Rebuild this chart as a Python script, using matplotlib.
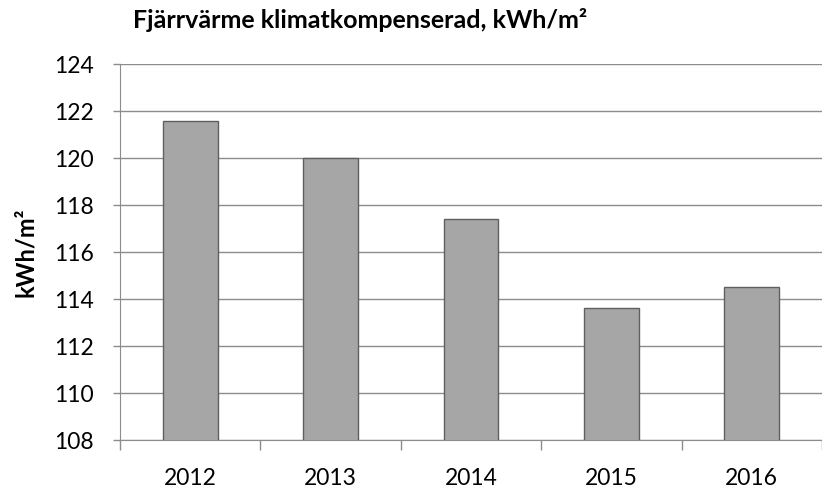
import matplotlib
matplotlib.use("Agg")
import matplotlib.pyplot as plt
import numpy as np

years = ["2012", "2013", "2014", "2015", "2016"]
values = [121.6, 120.0, 117.4, 113.6, 114.5]
yticks = [108, 110, 112, 114, 116, 118, 120, 122, 124]

plt.rcParams["font.family"] = ["Lato", "DejaVu Sans"]

fig = plt.figure(figsize=(8.22, 4.90), dpi=100)
ax = fig.add_axes([0.146, 0.102, 0.854, 0.767])

x = np.arange(len(years))
ax.bar(x, values, width=0.39, color="#a6a6a6", edgecolor="#5f5f5f",
       linewidth=1.0, zorder=3)

ax.set_ylim(108, 124)
ax.set_xlim(-0.5, 4.48)
ax.set_yticks(yticks)
ax.set_yticklabels([str(t) for t in yticks], fontsize=16.5)
ax.yaxis.grid(True, color="#8c8c8c", linewidth=1.0, zorder=0)

ax.set_xticks(x)
ax.set_xticklabels(years, fontsize=16.5)
ax.tick_params(axis="x", which="major", length=0, pad=20)
ax.set_xticks(np.arange(-0.5, 4.6, 1.0), minor=True)
ax.tick_params(axis="x", which="minor", length=7, color="#8c8c8c", width=1.0)
ax.tick_params(axis="y", length=5, color="#8c8c8c", width=1.0, pad=14)

for side in ["top", "right"]:
    ax.spines[side].set_visible(False)
ax.spines["left"].set_color("#8c8c8c")
ax.spines["bottom"].set_color("#8c8c8c")

ax.set_ylabel("kWh/m²", fontsize=17, fontweight="bold", labelpad=12)
fig.text(0.162, 0.943, "Fjärrvärme klimatkompenserad, kWh/m²", fontsize=18,
         fontweight="bold", va="baseline", ha="left")

fig.savefig("out.png", dpi=100)
